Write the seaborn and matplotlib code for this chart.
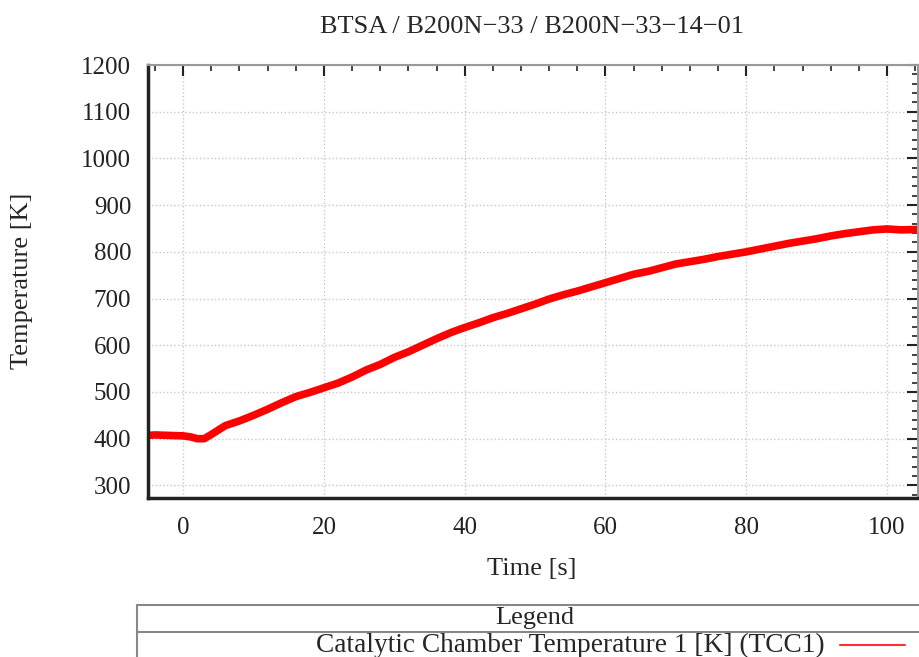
import numpy as np
import pandas as pd
import matplotlib
matplotlib.use("Agg")
import matplotlib.pyplot as plt
from matplotlib.lines import Line2D
from matplotlib.ticker import MultipleLocator
import seaborn as sns

# data
time_s = [-5, -4, -2, 0, 1, 2, 3, 4, 6, 8, 10, 12, 14, 16, 18, 20, 22, 24, 26, 28,
          30, 32, 34, 36, 38, 40, 42, 44, 46, 48, 50, 52, 54, 56, 58, 60, 62, 64,
          66, 68, 70, 72, 74, 76, 78, 80, 82, 84, 86, 88, 90, 92, 94, 96, 98, 100,
          102, 104.5]
tcc1 = [407, 408, 407, 406, 404, 400, 400, 409, 428, 438, 450, 463, 477, 490, 499,
        509, 519, 532, 547, 559, 574, 586, 600, 614, 627, 638, 648, 659, 668, 678,
        688, 699, 708, 716, 725, 734, 743, 752, 758, 766, 774, 779, 784, 790, 795,
        800, 806, 812, 818, 823, 828, 834, 839, 843, 847, 849, 847, 848]
x_ticks = [0, 20, 40, 60, 80, 100]
y_ticks = [300, 400, 500, 600, 700, 800, 900, 1000, 1100, 1200]

title = "BTSA / B200N\u221233 / B200N\u221233\u221214\u221201"
series_name = "Catalytic Chamber Temperature 1 [K] (TCC1)"

df = pd.DataFrame({"Time [s]": time_s, "Temperature [K]": tcc1})

sns.set_style("white")
plt.rcParams['font.family'] = ['Liberation Serif', 'DejaVu Serif']

W, H = 919, 657
fig = plt.figure(figsize=(W / 100, H / 100), dpi=100)
ax = fig.add_axes([148 / W, 1 - 498 / H, (918 - 148) / W, (498 - 65) / H])

sns.lineplot(data=df, x="Time [s]", y="Temperature [K]", ax=ax,
             color="#ff0000", linewidth=5.5, solid_joinstyle="round")

ax.set_xlim(-5, 104.4)
ax.set_ylim(273, 1200)
ax.set_xticks(x_ticks)
ax.set_yticks(y_ticks)
ax.xaxis.set_minor_locator(MultipleLocator(4))
ax.yaxis.set_minor_locator(MultipleLocator(20))
ax.tick_params(which='both', direction='in', top=True, right=True, labelsize=18,
               colors='#222222')
ax.tick_params(which='major', length=8, width=1.5)
ax.tick_params(which='minor', length=4, width=1.2)
ax.tick_params(axis='x', pad=14)
ax.tick_params(axis='y', pad=12)
ax.grid(True, which='major', color='#c8c8c8', linestyle=':', linewidth=1)
ax.set_xlabel("")
ax.set_ylabel("")

for side in ['left', 'bottom']:
    ax.spines[side].set_color('#222222')
    ax.spines[side].set_linewidth(2.5)
for side in ['top', 'right']:
    ax.spines[side].set_color('#999999')
    ax.spines[side].set_linewidth(1.5)

fig.text(532 / W, 1 - 27 / H, title, ha='center', va='center', fontsize=19)
fig.text(22 / W, 1 - 281 / H, "Temperature [K]", rotation=90,
         ha='center', va='center', fontsize=19)
fig.text(532 / W, 1 - 569 / H, "Time [s]", ha='center', va='center', fontsize=19)

# gnuplot style legend box under the plot
box = dict(color='#888888', linewidth=1.5, transform=fig.transFigure)
fig.add_artist(Line2D([137 / W, 1], [1 - 605 / H] * 2, **box))
fig.add_artist(Line2D([137 / W, 1], [1 - 632 / H] * 2, **box))
fig.add_artist(Line2D([137 / W] * 2, [1 - 605 / H, 0], **box))
fig.text(535 / W, 1 - 618 / H, "Legend", ha='center', va='center', fontsize=19)
fig.text(825 / W, 1 - 645 / H, series_name, ha='right', va='center', fontsize=19.7)
fig.add_artist(Line2D([840 / W, 905 / W], [1 - 645 / H] * 2, color='#ff3030',
                      linewidth=1.5, transform=fig.transFigure))

fig.savefig("out.png", dpi=100)
